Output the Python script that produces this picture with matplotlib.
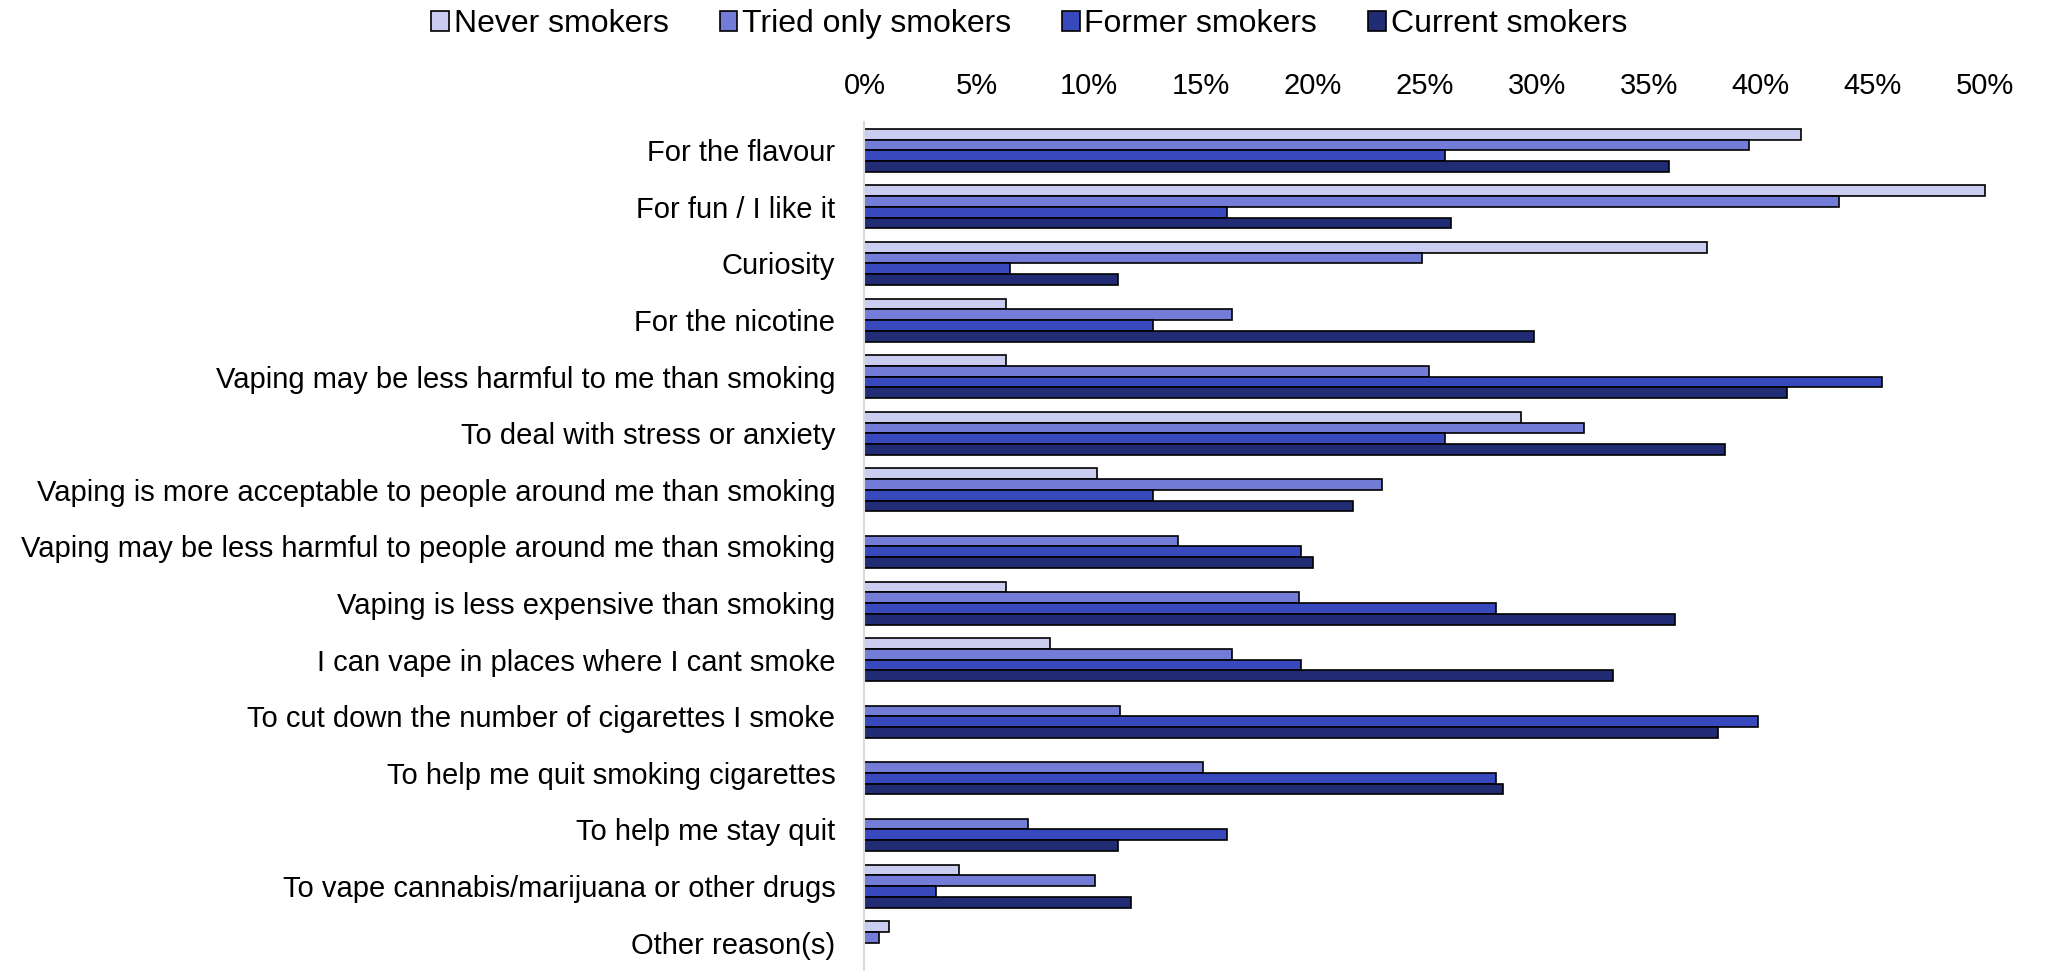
import matplotlib
matplotlib.use("Agg")
import matplotlib.pyplot as plt
import numpy as np

plt.rcParams['font.family'] = ['Liberation Sans', 'DejaVu Sans']

categories = [
    "For the flavour",
    "For fun / I like it",
    "Curiosity",
    "For the nicotine",
    "Vaping may be less harmful to me than smoking",
    "To deal with stress or anxiety",
    "Vaping is more acceptable to people around me than smoking",
    "Vaping may be less harmful to people around me than smoking",
    "Vaping is less expensive than smoking",
    "I can vape in places where I cant smoke",
    "To cut down the number of cigarettes I smoke",
    "To help me quit smoking cigarettes",
    "To help me stay quit",
    "To vape cannabis/marijuana or other drugs",
    "Other reason(s)",
]
series_names = ["Never smokers", "Tried only smokers", "Former smokers", "Current smokers"]

never = [41.8, 50.0, 37.6, 6.3, 6.3, 29.3, 10.4, 0, 6.3, 8.3, 0, 0, 0, 4.2, 1.1]
tried = [39.5, 43.5, 24.9, 16.4, 25.2, 32.1, 23.1, 14.0, 19.4, 16.4, 11.4, 15.1, 7.3, 10.3, 0.65]
former = [25.9, 16.2, 6.5, 12.9, 45.4, 25.9, 12.9, 19.5, 28.2, 19.5, 39.9, 28.2, 16.2, 3.2, 0]
current = [35.9, 26.2, 11.3, 29.9, 41.2, 38.4, 21.8, 20.0, 36.2, 33.4, 38.1, 28.5, 11.3, 11.9, 0]

xticks = [0, 5, 10, 15, 20, 25, 30, 35, 40, 45, 50]
xtick_labels = [f"{t}%" for t in xticks]

colors = ["#CACDEF", "#737CD6", "#3848BD", "#222C75"]

fig = plt.figure(figsize=(20.46, 9.71), dpi=100)
ax = fig.add_axes([0.4225, 0.0, 0.5475, 0.8744])

y = np.arange(len(categories))
h = 0.19
data = [never, tried, former, current]
for k, (vals, col, name) in enumerate(zip(data, colors, series_names)):
    vals = np.array(vals, dtype=float)
    mask = vals > 0
    ax.barh(y[mask] + (k - 1.5) * h, vals[mask], height=h, color=col,
            edgecolor="black", linewidth=1.2, label=name, clip_on=False)

ax.set_ylim(len(categories) - 0.5, -0.5)
ax.set_xlim(0, 50)
ax.set_yticks(y)
ax.set_yticklabels(categories, fontsize=21)
ax.set_xticks(xticks)
ax.set_xticklabels(xtick_labels, fontsize=21)
ax.xaxis.tick_top()
ax.tick_params(axis='x', length=0, pad=15.5)
ax.tick_params(axis='y', length=0, pad=21)
for s in ["top", "right", "bottom"]:
    ax.spines[s].set_visible(False)
ax.spines["left"].set_color("#d9d9d9")
ax.spines["left"].set_linewidth(1.5)

handles, labels = ax.get_legend_handles_labels()
fig.legend(handles, labels, loc="center", bbox_to_anchor=(0.503, 0.975), ncol=4,
           frameon=False, fontsize=23, handlelength=0.55, handleheight=0.55,
           handletextpad=0.15, columnspacing=1.6, borderpad=0)

fig.savefig("out.png", dpi=100)
